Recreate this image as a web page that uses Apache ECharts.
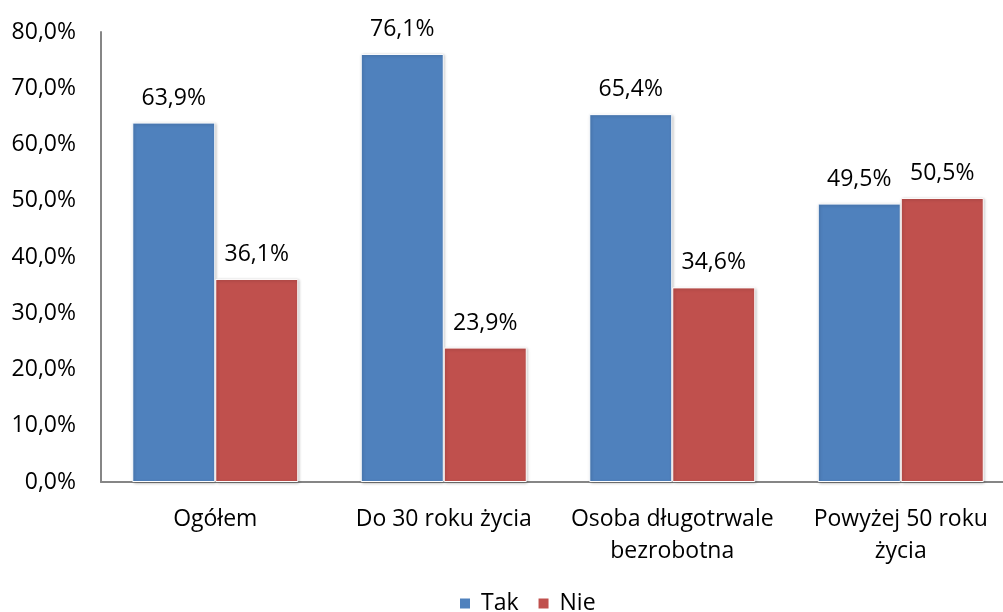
<!DOCTYPE html>
<html>
<head>
<meta charset="utf-8">
<script src="https://cdn.jsdelivr.net/npm/echarts@6/dist/echarts.min.js"></script>
<style>html,body{margin:0;padding:0;background:#fff}#c{width:1003px;height:612px}</style>
</head>
<body>
<div id="c"></div>
<script>
var categories = ['Ogółem', 'Do 30 roku życia', 'Osoba długotrwale\nbezrobotna', 'Powyżej 50 roku\nżycia'];
var seriesNames = ['Tak', 'Nie'];
var takValues = [63.9, 76.1, 65.4, 49.5];
var nieValues = [36.1, 23.9, 34.6, 50.5];
var yTicks = [0, 10, 20, 30, 40, 50, 60, 70, 80];

function pct(v) { return Number(v).toFixed(1).replace('.', ',') + '%'; }
var FONT = 'Open Sans';
var FS = 23;
var chart = echarts.init(document.getElementById('c'));
function barSeries(name, data, color) {
  return {
    name: name, type: 'bar', data: data, barWidth: 83, barGap: '0%',
    itemStyle: { color: color, borderColor: '#fff', borderWidth: 1,
      shadowColor: 'rgba(0,0,0,0.25)', shadowBlur: 3, shadowOffsetX: 1, shadowOffsetY: 1 },
    label: { show: true, position: 'top', distance: 13, formatter: function (p) { return pct(p.value); },
      fontFamily: FONT, fontSize: FS, color: '#000' }
  };
}
chart.setOption({
  animation: false,
  textStyle: { fontFamily: FONT },
  grid: { left: 101, width: 914, top: 32, bottom: 130, containLabel: false, outerBoundsMode: 'none' },
  legend: { top: 587, left: 453, padding: 5, itemWidth: 12, itemHeight: 12, itemGap: 18, icon: 'rect',
    textStyle: { fontFamily: FONT, fontSize: FS, color: '#000', padding: [0, 0, 0, 5] }, data: seriesNames },
  xAxis: { type: 'category', data: categories,
    axisLine: { lineStyle: { color: '#868686', width: 2 } }, axisTick: { show: false },
    axisLabel: { fontFamily: FONT, fontSize: FS, color: '#000', margin: 21, lineHeight: 32, interval: 0 } },
  yAxis: { type: 'value', min: yTicks[0], max: yTicks[yTicks.length - 1], interval: 10,
    axisLine: { show: true, lineStyle: { color: '#868686', width: 2 } }, axisTick: { show: false },
    splitLine: { show: false },
    axisLabel: { fontFamily: FONT, fontSize: FS, color: '#000', margin: 25, formatter: pct } },
  series: [barSeries(seriesNames[0], takValues, '#4F81BD'), barSeries(seriesNames[1], nieValues, '#C0504D')]
});
</script>
</body>
</html>
